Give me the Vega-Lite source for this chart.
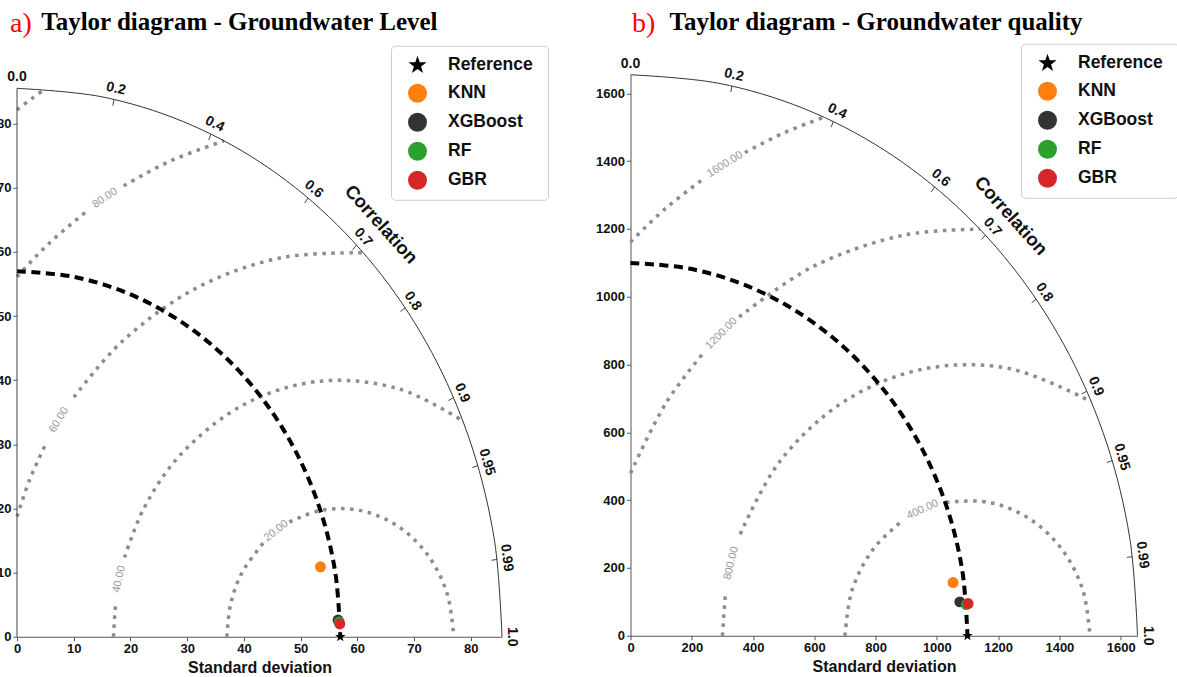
{
  "$schema": "https://vega.github.io/schema/vega-lite/v6.json",
  "background": "#ffffff",
  "padding": {"left": -4, "top": 8.75, "right": 0, "bottom": 0},
  "spacing": 46.5,
  "resolve": {"scale": {"color": "independent", "shape": "independent"}, "legend": {"color": "independent", "shape": "independent"}},
  "config": {
    "view": {"stroke": null},
    "axis": {"labelFont": "Liberation Sans", "labelFontWeight": "bold", "labelFontSize": 13, "labelColor": "#111111", "domainColor": "#555555", "tickColor": "#555555", "tickSize": 4, "grid": false, "titleFont": "Liberation Sans", "titleFontSize": 16, "titleFontWeight": "bold", "titleColor": "#111111", "labelPadding": 2, "titlePadding": 4, "labelFlush": false},
    "legend": {"padding": 10, "rowPadding": 10, "symbolSize": 360, "labelFont": "Liberation Sans", "labelFontWeight": "bold", "labelFontSize": 17.5, "labelColor": "#111111", "labelOffset": 21, "strokeColor": "#cccccc", "fillColor": "#ffffff", "cornerRadius": 4, "symbolStrokeWidth": 0, "symbolOffset": 7},
    "style": {
      "corr": {"font": "Liberation Sans", "fontWeight": "bold", "fontSize": 14, "color": "#111111", "align": "center", "baseline": "middle"},
      "rlab": {"font": "Liberation Sans", "fontSize": 11, "color": "#999999", "align": "center", "baseline": "middle"},
      "ctitle": {"font": "Liberation Sans", "fontWeight": "bold", "fontSize": 18.5, "color": "#111111", "align": "center", "baseline": "middle"}
    }
  },
  "datasets": {
    "outerA": [{"x":85.5,"y":0},{"x":84.2,"y":14.85},{"x":80.34,"y":29.24},{"x":74.05,"y":42.75},{"x":65.5,"y":54.96},{"x":54.96,"y":65.5},{"x":42.75,"y":74.05},{"x":29.24,"y":80.34},{"x":14.85,"y":84.2},{"x":0,"y":85.5}],
    "refA": [{"x":57,"y":0},{"x":56.13,"y":9.9},{"x":53.56,"y":19.49},{"x":49.36,"y":28.5},{"x":43.66,"y":36.64},{"x":36.64,"y":43.66},{"x":28.5,"y":49.36},{"x":19.49,"y":53.56},{"x":9.9,"y":56.13},{"x":0,"y":57}],
    "rmsdA": [
      {"seg":"r20a","x":77,"y":0},{"seg":"r20a","x":75.79,"y":6.84},{"seg":"r20a","x":72.32,"y":12.86},{"seg":"r20a","x":67,"y":17.32},{"seg":"r20a","x":60.47,"y":19.7},{"seg":"r20a","x":53.53,"y":19.7},{"seg":"r20a","x":48.01,"y":17.87},
      {"seg":"r20b","x":43.62,"y":14.86},{"seg":"r20b","x":39.68,"y":10},{"seg":"r20b","x":37.68,"y":5.18},{"seg":"r20b","x":37,"y":0},
      {"seg":"r40a","x":78.61,"y":33.66},{"seg":"r40a","x":67.35,"y":38.64},{"seg":"r40a","x":53.51,"y":39.85},{"seg":"r40a","x":40.1,"y":36.25},{"seg":"r40a","x":28.72,"y":28.28},{"seg":"r40a","x":22.36,"y":20},{"seg":"r40a","x":18.96,"y":12.36},
      {"seg":"r40b","x":17.39,"y":5.57},{"seg":"r40b","x":17,"y":0},
      {"seg":"r60a","x":61.05,"y":59.86},{"seg":"r60a","x":46.58,"y":59.09},{"seg":"r60a","x":31.64,"y":54.38},{"seg":"r60a","x":18.43,"y":45.96},{"seg":"r60a","x":10.04,"y":37.35},
      {"seg":"r60b","x":5.04,"y":30},{"seg":"r60b","x":2.19,"y":24.4},{"seg":"r60b","x":0,"y":18.73},
      {"seg":"r80a","x":36.48,"y":77.3},{"seg":"r80a","x":27.03,"y":74.18},{"seg":"r80a","x":18.82,"y":70.3},
      {"seg":"r80b","x":12.26,"y":66.32},{"seg":"r80b","x":5.58,"y":61.28},{"seg":"r80b","x":0,"y":56.13},
      {"seg":"r100","x":0,"y":82.15},{"seg":"r100","x":2.54,"y":83.87},{"seg":"r100","x":4.9,"y":85.36}
    ],
    "ticksA": [{"x":0,"y":0,"x2":0,"y2":85.5},{"x":17.1,"y":83.77,"x2":16.9,"y2":82.79},{"x":34.2,"y":78.36,"x2":33.8,"y2":77.44},{"x":51.3,"y":68.4,"x2":50.7,"y2":67.6},{"x":59.85,"y":61.06,"x2":59.15,"y2":60.34},{"x":68.4,"y":51.3,"x2":67.6,"y2":50.7},{"x":76.95,"y":37.27,"x2":76.05,"y2":36.83},{"x":81.23,"y":26.69,"x2":80.28,"y2":26.38},{"x":84.65,"y":12.06,"x2":83.66,"y2":11.92}],
    "corrA": [{"c":"0.0","x":0,"y":87.2},{"c":"0.2","x":17.44,"y":85.44},{"c":"0.4","x":34.88,"y":79.92},{"c":"0.6","x":52.32,"y":69.76},{"c":"0.7","x":61.04,"y":62.27},{"c":"0.8","x":69.76,"y":52.32},{"c":"0.9","x":78.48,"y":38.01},{"c":"0.95","x":82.84,"y":27.22},{"c":"0.99","x":86.33,"y":12.3},{"c":"1.0","x":87.2,"y":0}],
    "rlabA": [{"lab":"20.00","x":45.7,"y":16.5},{"lab":"40.00","x":18.03,"y":9.0},{"lab":"60.00","x":7.4,"y":33.8},{"lab":"80.00","x":15.5,"y":68.4}],
    "ptsA": [{"model":"Reference","x":57,"y":0},{"model":"KNN","x":53.5,"y":10.9},{"model":"XGBoost","x":56.6,"y":2.6},{"model":"RF","x":56.8,"y":2.3},{"model":"GBR","x":56.9,"y":2.0}],
    "outerB": [{"x":1655,"y":0},{"x":1629.9,"y":287.4},{"x":1555.2,"y":566},{"x":1433.3,"y":827.5},{"x":1267.8,"y":1063.8},{"x":1063.8,"y":1267.8},{"x":827.5,"y":1433.3},{"x":566,"y":1555.2},{"x":287.4,"y":1629.9},{"x":0,"y":1655}],
    "refB": [{"x":1100,"y":0},{"x":1083.3,"y":191},{"x":1033.7,"y":376.2},{"x":952.6,"y":550},{"x":842.6,"y":707.1},{"x":707.1,"y":842.6},{"x":550,"y":952.6},{"x":376.2,"y":1033.7},{"x":191,"y":1083.3},{"x":0,"y":1100}],
    "rmsdB": [
      {"seg":"r400a","x":1500,"y":0},{"seg":"r400a","x":1475.9,"y":136.8},{"seg":"r400a","x":1406.4,"y":257.1},{"seg":"r400a","x":1300,"y":346.4},{"seg":"r400a","x":1169.5,"y":393.9},{"seg":"r400a","x":1030.5,"y":393.9},
      {"seg":"r400b","x":882.2,"y":335.5},{"seg":"r400b","x":793.6,"y":257.1},{"seg":"r400b","x":724.1,"y":136.8},{"seg":"r400b","x":700,"y":0},
      {"seg":"r800a","x":1504.1,"y":690.4},{"seg":"r800a","x":1238.9,"y":787.8},{"seg":"r800a","x":961.1,"y":787.8},{"seg":"r800a","x":700,"y":692.8},{"seg":"r800a","x":487.2,"y":514.2},{"seg":"r800a","x":358.2,"y":299.7},
      {"seg":"r800b","x":309.8,"y":125.1},{"seg":"r800b","x":300,"y":0},
      {"seg":"r1200a","x":1140.5,"y":1199.3},{"seg":"r1200a","x":891.6,"y":1181.8},{"seg":"r1200a","x":592.9,"y":1087.6},{"seg":"r1200a","x":354.7,"y":940.4},
      {"seg":"r1200b","x":242.6,"y":839.6},{"seg":"r1200b","x":117,"y":688.3},{"seg":"r1200b","x":0,"y":479.6},
      {"seg":"r1600a","x":631.4,"y":1529.8},{"seg":"r1600a","x":500.6,"y":1483.5},{"seg":"r1600a","x":373.6,"y":1425.6},
      {"seg":"r1600b","x":244.9,"y":1352.5},{"seg":"r1600b","x":114.9,"y":1260.8},{"seg":"r1600b","x":0,"y":1161.9}
    ],
    "ticksB": [{"x":331,"y":1621.6,"x2":327.4,"y2":1603.9},{"x":662,"y":1516.8,"x2":654.8,"y2":1500.3},{"x":993,"y":1324,"x2":982.2,"y2":1309.6},{"x":1158.5,"y":1181.8,"x2":1145.9,"y2":1169},{"x":1324,"y":993,"x2":1309.6,"y2":982.2},{"x":1489.5,"y":721.4,"x2":1473.3,"y2":713.6},{"x":1572.3,"y":516.7,"x2":1555.2,"y2":511.1},{"x":1638.5,"y":233.5,"x2":1620.6,"y2":231}],
    "corrB": [{"c":"0.0","x":0,"y":1688},{"c":"0.2","x":337.6,"y":1653.9},{"c":"0.4","x":675.2,"y":1547.1},{"c":"0.6","x":1012.8,"y":1350.4},{"c":"0.7","x":1181.6,"y":1205.4},{"c":"0.8","x":1350.4,"y":1012.8},{"c":"0.9","x":1519.2,"y":735.8},{"c":"0.95","x":1603.6,"y":527},{"c":"0.99","x":1671.1,"y":238.2},{"c":"1.0","x":1688,"y":0}],
    "rlabB": [{"lab":"400.00","x":953.4,"y":372.2},{"lab":"800.00","x":329.1,"y":213.8},{"lab":"1200.00","x":297,"y":891.8},{"lab":"1600.00","x":308.5,"y":1390.4}],
    "ptsB": [{"model":"Reference","x":1100,"y":0},{"model":"KNN","x":1053,"y":157},{"model":"XGBoost","x":1075,"y":100},{"model":"RF","x":1096,"y":92},{"model":"GBR","x":1102,"y":95}]
  },
  "hconcat": [
    {
      "width": 485,
      "height": 562,
      "title": {"text": "a)", "subtitle": "\u200b\u00a0\u00a0\u00a0\u00a0\u00a0Taylor diagram - Groundwater Level", "anchor": "start", "frame": "group", "dx": -7, "offset": 6.75, "color": "#ff0000", "font": "Liberation Serif", "fontSize": 28, "fontWeight": "normal", "subtitleFont": "Liberation Serif", "subtitleFontSize": 25, "subtitleFontWeight": "bold", "subtitleColor": "#000000", "subtitlePadding": -28.5},
      "encoding": {
        "x": {"field": "x", "type": "quantitative", "scale": {"domain": [0, 85.5], "nice": false, "zero": false}, "axis": {"values": [0,10,20,30,40,50,60,70,80], "format": "d", "title": "Standard deviation"}},
        "y": {"field": "y", "type": "quantitative", "scale": {"domain": [0, 87.62], "nice": false, "zero": false}, "axis": {"values": [0,10,20,30,40,50,60,70,80], "format": "d", "title": null, "domain": false}}
      },
      "layer": [
        {"data": {"name": "rmsdA"}, "mark": {"type": "line", "interpolate": "catmull-rom", "color": "#8c8c8c", "strokeWidth": 3.5, "strokeDash": [3.5, 5.5]}, "encoding": {"detail": {"field": "seg"}}},
        {"data": {"name": "refA"}, "mark": {"type": "line", "interpolate": "catmull-rom", "color": "#000000", "strokeWidth": 4, "strokeDash": [9, 5.5]}, "encoding": {}},
        {"data": {"name": "outerA"}, "mark": {"type": "line", "interpolate": "catmull-rom", "color": "#333333", "strokeWidth": 1}, "encoding": {}},
        {"data": {"name": "ticksA"}, "mark": {"type": "rule", "color": "#444444", "strokeWidth": 1}, "encoding": {"x2": {"field": "x2"}, "y2": {"field": "y2"}}},
        {"data": {"name": "corrA"}, "encoding": {"text": {"field": "c"}}, "layer": [
          {"transform": [{"filter": "datum.c==='0.0'"}], "mark": {"type": "text", "style": "corr", "angle": 0}},
          {"transform": [{"filter": "datum.c==='0.2'"}], "mark": {"type": "text", "style": "corr", "angle": 13}},
          {"transform": [{"filter": "datum.c==='0.4'"}], "mark": {"type": "text", "style": "corr", "angle": 26}},
          {"transform": [{"filter": "datum.c==='0.6'"}], "mark": {"type": "text", "style": "corr", "angle": 40}},
          {"transform": [{"filter": "datum.c==='0.7'"}], "mark": {"type": "text", "style": "corr", "angle": 48}},
          {"transform": [{"filter": "datum.c==='0.8'"}], "mark": {"type": "text", "style": "corr", "angle": 56}},
          {"transform": [{"filter": "datum.c==='0.9'"}], "mark": {"type": "text", "style": "corr", "angle": 67}},
          {"transform": [{"filter": "datum.c==='0.95'"}], "mark": {"type": "text", "style": "corr", "angle": 74}},
          {"transform": [{"filter": "datum.c==='0.99'"}], "mark": {"type": "text", "style": "corr", "angle": 83}},
          {"transform": [{"filter": "datum.c==='1.0'"}], "mark": {"type": "text", "style": "corr", "angle": 90}}
        ]},
        {"data": {"name": "rlabA"}, "encoding": {"text": {"field": "lab"}}, "layer": [
          {"transform": [{"filter": "datum.lab==='20.00'"}], "mark": {"type": "text", "style": "rlab", "angle": -38}},
          {"transform": [{"filter": "datum.lab==='40.00'"}], "mark": {"type": "text", "style": "rlab", "angle": -78}},
          {"transform": [{"filter": "datum.lab==='60.00'"}], "mark": {"type": "text", "style": "rlab", "angle": -59}},
          {"transform": [{"filter": "datum.lab==='80.00'"}], "mark": {"type": "text", "style": "rlab", "angle": -34}}
        ]},
        {"data": {"values": [{"lab": "Correlation", "x": 64.2, "y": 64.3}]}, "mark": {"type": "text", "style": "ctitle", "angle": 48}, "encoding": {"text": {"field": "lab"}}},
        {"data": {"name": "ptsA"}, "mark": {"type": "point", "filled": true, "size": 120, "opacity": 1, "strokeWidth": 0},
         "encoding": {
          "color": {"field": "model", "type": "nominal", "scale": {"domain": ["Reference","KNN","XGBoost","RF","GBR"], "range": ["#000000","#ff7f0e","#333333","#2ca02c","#d62728"]}, "legend": {"orient": "none", "legendX": 374, "legendY": -29, "title": null, "labelExpr": "datum.label + '\u00a0\u200b'"}},
          "shape": {"field": "model", "type": "nominal", "scale": {"domain": ["Reference","KNN","XGBoost","RF","GBR"], "range": ["M0,-1L0.235,-0.324L0.951,-0.309L0.38,0.124L0.588,0.809L0,0.4L-0.588,0.809L-0.38,0.124L-0.951,-0.309L-0.235,-0.324Z","circle","circle","circle","circle"]}, "legend": {"orient": "none", "legendX": 374, "legendY": -29, "title": null, "labelExpr": "datum.label + '\u00a0\u200b'"}}
         }}
      ]
    },
    {
      "width": 507,
      "height": 561,
      "title": {"text": "b)", "subtitle": "\u200b\u00a0\u00a0\u00a0\u00a0\u00a0\u00a0Taylor diagram - Groundwater quality", "anchor": "start", "frame": "group", "dx": 1.5, "offset": 4.75, "color": "#ff0000", "font": "Liberation Serif", "fontSize": 28, "fontWeight": "normal", "subtitleFont": "Liberation Serif", "subtitleFontSize": 25, "subtitleFontWeight": "bold", "subtitleColor": "#000000", "subtitlePadding": -28.5},
      "encoding": {
        "x": {"field": "x", "type": "quantitative", "scale": {"domain": [0, 1655], "nice": false, "zero": false}, "axis": {"values": [0,200,400,600,800,1000,1200,1400,1600], "format": "d", "title": "Standard deviation"}},
        "y": {"field": "y", "type": "quantitative", "scale": {"domain": [0, 1655], "nice": false, "zero": false}, "axis": {"values": [0,200,400,600,800,1000,1200,1400,1600], "format": "d", "title": null}}
      },
      "layer": [
        {"data": {"name": "rmsdB"}, "mark": {"type": "line", "interpolate": "catmull-rom", "color": "#8c8c8c", "strokeWidth": 3.5, "strokeDash": [3.5, 5.5]}, "encoding": {"detail": {"field": "seg"}}},
        {"data": {"name": "refB"}, "mark": {"type": "line", "interpolate": "catmull-rom", "color": "#000000", "strokeWidth": 4, "strokeDash": [9, 5.5]}, "encoding": {}},
        {"data": {"name": "outerB"}, "mark": {"type": "line", "interpolate": "catmull-rom", "color": "#333333", "strokeWidth": 1}, "encoding": {}},
        {"data": {"name": "ticksB"}, "mark": {"type": "rule", "color": "#444444", "strokeWidth": 1}, "encoding": {"x2": {"field": "x2"}, "y2": {"field": "y2"}}},
        {"data": {"name": "corrB"}, "encoding": {"text": {"field": "c"}}, "layer": [
          {"transform": [{"filter": "datum.c==='0.0'"}], "mark": {"type": "text", "style": "corr", "angle": 0}},
          {"transform": [{"filter": "datum.c==='0.2'"}], "mark": {"type": "text", "style": "corr", "angle": 13}},
          {"transform": [{"filter": "datum.c==='0.4'"}], "mark": {"type": "text", "style": "corr", "angle": 26}},
          {"transform": [{"filter": "datum.c==='0.6'"}], "mark": {"type": "text", "style": "corr", "angle": 40}},
          {"transform": [{"filter": "datum.c==='0.7'"}], "mark": {"type": "text", "style": "corr", "angle": 48}},
          {"transform": [{"filter": "datum.c==='0.8'"}], "mark": {"type": "text", "style": "corr", "angle": 56}},
          {"transform": [{"filter": "datum.c==='0.9'"}], "mark": {"type": "text", "style": "corr", "angle": 67}},
          {"transform": [{"filter": "datum.c==='0.95'"}], "mark": {"type": "text", "style": "corr", "angle": 74}},
          {"transform": [{"filter": "datum.c==='0.99'"}], "mark": {"type": "text", "style": "corr", "angle": 83}},
          {"transform": [{"filter": "datum.c==='1.0'"}], "mark": {"type": "text", "style": "corr", "angle": 90}}
        ]},
        {"data": {"name": "rlabB"}, "encoding": {"text": {"field": "lab"}}, "layer": [
          {"transform": [{"filter": "datum.lab==='400.00'"}], "mark": {"type": "text", "style": "rlab", "angle": -24}},
          {"transform": [{"filter": "datum.lab==='800.00'"}], "mark": {"type": "text", "style": "rlab", "angle": -76}},
          {"transform": [{"filter": "datum.lab==='1200.00'"}], "mark": {"type": "text", "style": "rlab", "angle": -45}},
          {"transform": [{"filter": "datum.lab==='1600.00'"}], "mark": {"type": "text", "style": "rlab", "angle": -32}}
        ]},
        {"data": {"values": [{"lab": "Correlation", "x": 1242, "y": 1239}]}, "mark": {"type": "text", "style": "ctitle", "angle": 48}, "encoding": {"text": {"field": "lab"}}},
        {"data": {"name": "ptsB"}, "mark": {"type": "point", "filled": true, "size": 120, "opacity": 1, "strokeWidth": 0},
         "encoding": {
          "color": {"field": "model", "type": "nominal", "scale": {"domain": ["Reference","KNN","XGBoost","RF","GBR"], "range": ["#000000","#ff7f0e","#333333","#2ca02c","#d62728"]}, "legend": {"orient": "none", "legendX": 390.5, "legendY": -31, "title": null, "labelExpr": "datum.label + '\u00a0\u200b'"}},
          "shape": {"field": "model", "type": "nominal", "scale": {"domain": ["Reference","KNN","XGBoost","RF","GBR"], "range": ["M0,-1L0.235,-0.324L0.951,-0.309L0.38,0.124L0.588,0.809L0,0.4L-0.588,0.809L-0.38,0.124L-0.951,-0.309L-0.235,-0.324Z","circle","circle","circle","circle"]}, "legend": {"orient": "none", "legendX": 390.5, "legendY": -31, "title": null, "labelExpr": "datum.label + '\u00a0\u200b'"}}
         }}
      ]
    }
  ]
}
